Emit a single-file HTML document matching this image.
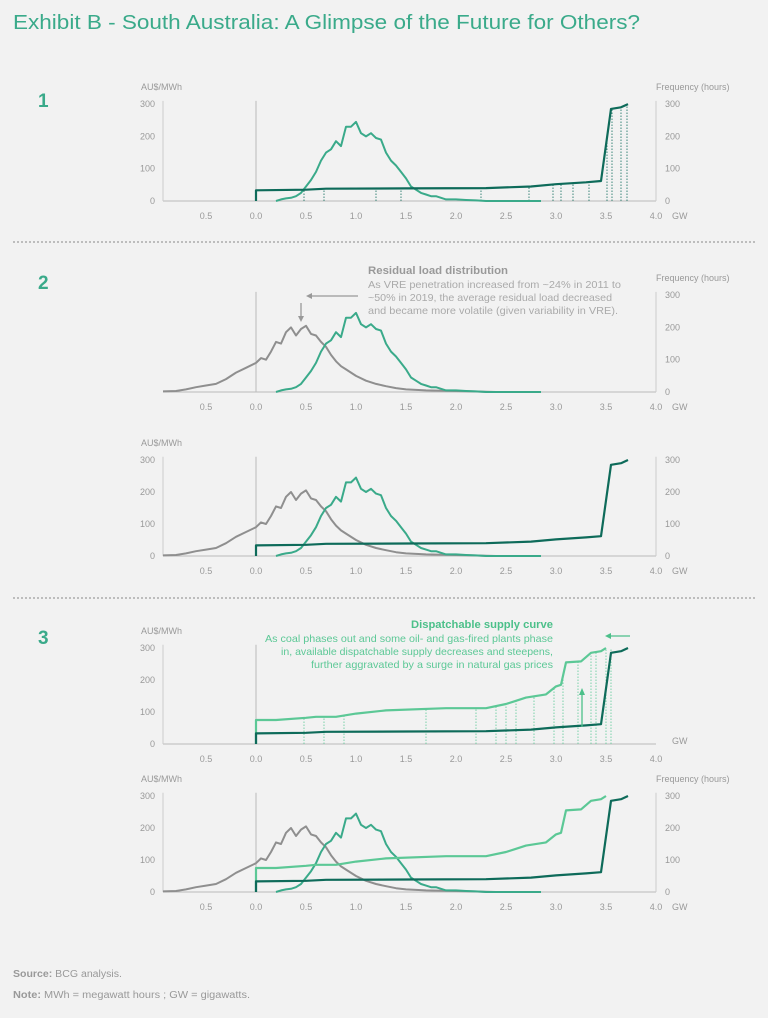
<!DOCTYPE html>
<html><head><meta charset="utf-8">
<style>
html,body{margin:0;padding:0;background:#f2f2f2;}
body{width:768px;height:1013px;overflow:hidden;font-family:"Liberation Sans",sans-serif;}
svg text{font-family:"Liberation Sans",sans-serif;}
</style></head>
<body>
<svg id="c" width="768" height="1013" viewBox="0 0 768 1013" xmlns="http://www.w3.org/2000/svg">
<text x="13" y="29" font-size="20" fill="#3aaa8a" textLength="627" lengthAdjust="spacingAndGlyphs">Exhibit B - South Australia: A Glimpse of the Future for Others?</text>
<text x="38" y="107" font-size="19" font-weight="bold" fill="#3aaa8a">1</text>
<text x="38" y="289" font-size="19" font-weight="bold" fill="#3aaa8a">2</text>
<text x="38" y="644" font-size="19" font-weight="bold" fill="#3aaa8a">3</text>
<line x1="13" y1="242" x2="755" y2="242" stroke="#888" stroke-dasharray="2,2"/>
<line x1="13" y1="598" x2="755" y2="598" stroke="#888" stroke-dasharray="2,2"/>
<g id="plots"></g>
<g>
<text x="368" y="274" font-size="11" font-weight="bold" fill="#999" textLength="140" lengthAdjust="spacingAndGlyphs">Residual load distribution</text>
<text x="368" y="288" font-size="10.5" fill="#aaa" textLength="253" lengthAdjust="spacingAndGlyphs">As VRE penetration increased from ~24% in 2011 to</text>
<text x="368" y="301" font-size="10.5" fill="#aaa" textLength="244" lengthAdjust="spacingAndGlyphs">~50% in 2019, the average residual load decreased</text>
<text x="368" y="314" font-size="10.5" fill="#aaa" textLength="250" lengthAdjust="spacingAndGlyphs">and became more volatile (given variability in VRE).</text>
<line x1="358" y1="296" x2="310" y2="296" stroke="#999" stroke-width="1.3"/>
<path d="M306 296 L312 293 L312 299Z" fill="#999"/>
<line x1="301" y1="303" x2="301" y2="318" stroke="#999" stroke-width="1.3"/>
<path d="M301 322 L298 316 L304 316Z" fill="#999"/>
</g>
<g>
<text x="553" y="628" font-size="11" font-weight="bold" fill="#4cc08a" text-anchor="end" textLength="142" lengthAdjust="spacingAndGlyphs">Dispatchable supply curve</text>
<text x="553" y="642" font-size="10.5" fill="#5cc896" text-anchor="end" textLength="288" lengthAdjust="spacingAndGlyphs">As coal phases out and some oil- and gas-fired plants phase</text>
<text x="553" y="655" font-size="10.5" fill="#5cc896" text-anchor="end" textLength="272" lengthAdjust="spacingAndGlyphs">in, available dispatchable supply decreases and steepens,</text>
<text x="553" y="668" font-size="10.5" fill="#5cc896" text-anchor="end" textLength="242" lengthAdjust="spacingAndGlyphs">further aggravated by a surge in natural gas prices</text>
<line x1="630" y1="636" x2="610" y2="636" stroke="#4cc08a" stroke-width="1.3"/>
<path d="M605 636 L611 633 L611 639Z" fill="#4cc08a"/>
<line x1="582" y1="727" x2="582" y2="694" stroke="#4cc08a" stroke-width="1.3"/>
<path d="M582 688 L579 695 L585 695Z" fill="#4cc08a"/>
</g>
<text x="13" y="977" font-size="10" fill="#999" textLength="109" lengthAdjust="spacingAndGlyphs"><tspan font-weight="bold">Source:</tspan> BCG analysis.</text>
<text x="13" y="998" font-size="10" fill="#999" textLength="237" lengthAdjust="spacingAndGlyphs"><tspan font-weight="bold">Note:</tspan> MWh = megawatt hours ; GW = gigawatts.</text>
</svg>
<script>
// Frequency distribution of load 2011 (green)
const loadGW = [0.2,0.25,0.3,0.35,0.4,0.45,0.5,0.55,0.6,0.65,0.7,0.75,0.8,0.85,0.9,0.95,1.0,1.05,1.1,1.15,1.2,1.25,1.3,1.35,1.4,1.45,1.5,1.55,1.6,1.65,1.7,1.75,1.8,1.85,1.9,2.0,2.1,2.2,2.3,2.5,2.7,2.85];
const loadFreq = [0,5,8,10,15,25,45,65,90,125,150,160,185,170,230,230,245,210,200,210,195,190,150,125,110,90,70,45,35,25,20,15,15,10,5,5,3,2,0,0,0,0];
// Residual load distribution 2019 (grey)
const resGW = [-0.93,-0.8,-0.7,-0.6,-0.5,-0.4,-0.3,-0.2,-0.1,0,0.05,0.1,0.15,0.2,0.25,0.3,0.35,0.4,0.45,0.5,0.55,0.6,0.65,0.7,0.75,0.8,0.85,0.9,1.0,1.1,1.2,1.3,1.4,1.5,1.7,2.0,2.4];
const resFreq = [2,3,8,15,20,25,40,60,75,90,105,100,125,155,150,185,200,175,195,205,180,175,155,140,115,95,80,70,50,35,25,18,12,8,5,3,0];
// Dispatchable supply curve (dark)
const supGW = [0,0,0.5,0.7,1.5,2.3,2.75,3.0,3.3,3.45,3.55,3.65,3.72];
const supPrice = [0,33,35,38,39,40,45,52,58,62,285,290,300];
// Future supply curve (light green)
const futGW = [0,0,0.2,0.5,0.6,0.8,1.0,1.3,1.9,2.3,2.5,2.6,2.7,2.9,3.0,3.05,3.1,3.25,3.35,3.45,3.5];
const futPrice = [0,75,75,82,85,85,95,105,112,112,125,135,145,155,180,185,255,258,285,290,300];
// Drop-line positions
const supDrops = [0.48,0.68,1.2,1.45,2.25,2.73,2.97,3.05,3.17,3.33,3.51,3.56,3.65,3.71];
const futDrops = [0.48,0.68,0.88,1.7,2.2,2.4,2.5,2.6,2.78,2.98,3.07,3.22,3.35,3.4,3.5,3.55];
const xTicks = [-0.5,0,0.5,1,1.5,2,2.5,3,3.5,4];
const yTicks = [0,100,200,300];

const NS="http://www.w3.org/2000/svg";
const g=document.getElementById('plots');
const X=v=>256+v*100;
function mk(tag,attrs,parent){const e=document.createElementNS(NS,tag);for(const k in attrs)e.setAttribute(k,attrs[k]);(parent||g).appendChild(e);return e;}
function txt(x,y,s,anchor,parent){const t=mk('text',{x:x,y:y,'font-size':9,fill:'#999','text-anchor':anchor||'middle'},parent);t.textContent=s;return t;}
function interp(xs,ys,v){for(let i=0;i<xs.length-1;i++){if(v>=xs[i]&&v<=xs[i+1]){if(xs[i+1]===xs[i])return ys[i+1];return ys[i]+(ys[i+1]-ys[i])*(v-xs[i])/(xs[i+1]-xs[i]);}}return ys[ys.length-1];}
function panel(o){
  const pg=mk('g',{});
  
  
  const Y=v=>o.y0-v*o.k;
  mk('line',{x1:163,y1:o.y0,x2:656,y2:o.y0,stroke:'#bbb'},pg);
  mk('line',{x1:256,y1:Y(310),x2:256,y2:o.y0,stroke:'#bbb'},pg);
  if(o.left){mk('line',{x1:163,y1:Y(310),x2:163,y2:o.y0,stroke:'#ccc'},pg);
    yTicks.forEach(v=>txt(155,Y(v)+3,String(v),'end',pg));
    if(o.leftTitle)txt(141,Y(300)-14,'AU$/MWh','start',pg);}
  if(o.right){mk('line',{x1:656,y1:Y(310),x2:656,y2:o.y0,stroke:'#ccc'},pg);
    yTicks.forEach(v=>txt(665,Y(v)+3,String(v),'start',pg));
    if(o.rightTitle)txt(656,Y(300)-14,'Frequency (hours)','start',pg);}
  xTicks.forEach(v=>txt(X(v),o.y0+18,Math.abs(v).toFixed(1),'middle',pg));
  txt(672,o.gwY||o.y0+18,'GW','start',pg);
  const path=(xs,ys,col,w,name)=>{const p=mk('path',{d:xs.map((x,i)=>(i?'L':'M')+X(x).toFixed(1)+' '+Y(ys[i]).toFixed(1)).join(' '),fill:'none',stroke:col,'stroke-width':w,'stroke-linejoin':'round'},pg);};
  if(o.supDrops)supDrops.forEach(d=>mk('line',{x1:X(d),y1:o.y0,x2:X(d),y2:Y(interp(supGW,supPrice,d)),stroke:'#0e6b5a','stroke-dasharray':'1.5,1.5','stroke-width':0.8},pg));
  if(o.futDrops)futDrops.forEach(d=>mk('line',{x1:X(d),y1:o.y0,x2:X(d),y2:Y(interp(futGW,futPrice,d)),stroke:'#5cc896','stroke-dasharray':'1.5,1.5','stroke-width':0.8},pg));
  if(o.res)path(resGW,resFreq,'#8f8f8f',2,'residual-load-line');
  if(o.load)path(loadGW,loadFreq,'#3aaa8a',2,'load-frequency-line');
  if(o.fut)path(futGW,futPrice,'#5cc896',2.2,'future-supply-line');
  if(o.sup)path(supGW,supPrice,'#0e6b5a',2.2,'supply-curve-line');
}
panel({name:'panel-1',y0:201,k:0.323,left:true,leftTitle:true,right:true,rightTitle:true,load:true,sup:true,supDrops:true});
panel({name:'panel-2-distribution',y0:392,k:0.323,right:true,rightTitle:true,load:true,res:true});
panel({name:'panel-2-supply',y0:556,k:0.32,left:true,leftTitle:true,right:true,load:true,res:true,sup:true});
panel({name:'panel-3-supply',y0:744,k:0.32,left:true,leftTitle:true,sup:true,fut:true,futDrops:true,gwY:744});
panel({name:'panel-3-combined',y0:892,k:0.32,left:true,leftTitle:true,right:true,rightTitle:true,load:true,res:true,sup:true,fut:true});
</script>
</body></html>
